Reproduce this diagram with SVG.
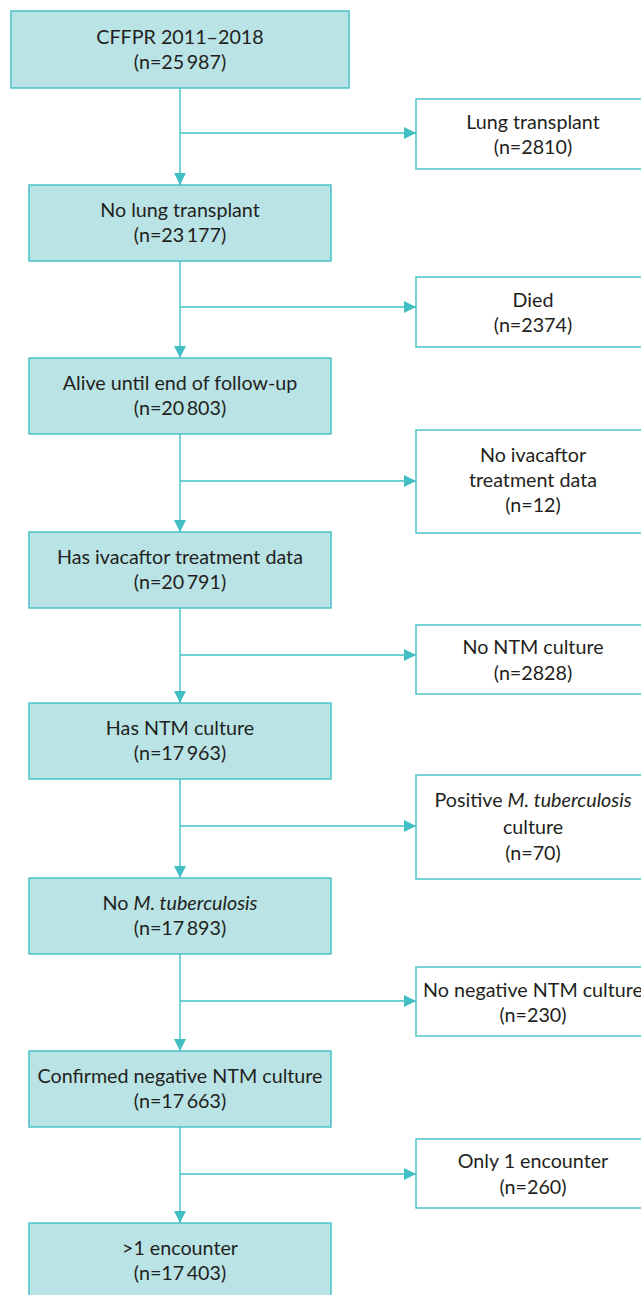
<svg xmlns="http://www.w3.org/2000/svg" width="641" height="1295" viewBox="0 0 641 1295">
<style>
.main{fill:#b9e3e5;stroke:#41bfc4;stroke-width:1.4}
.side{fill:#ffffff;stroke:#41bfc4;stroke-width:1.4}
.con{fill:none;stroke:#41bfc4;stroke-width:1.4}
text{font-family:"Lato","Liberation Sans",sans-serif;font-size:19.7px;fill:#231f20;text-anchor:middle}
.it{font-style:italic}
</style>
<defs>
<marker id="ah" viewBox="0 0 12 12" refX="12" refY="6" markerWidth="12" markerHeight="12" markerUnits="userSpaceOnUse" orient="auto">
<path d="M0,0 L12,6 L0,12 z" fill="#41bfc4"/>
</marker>
</defs>
<g id="connectors">
<path class="con" d="M180,88 V185" marker-end="url(#ah)"/>
<path class="con" d="M180,133 H416" marker-end="url(#ah)"/>
<path class="con" d="M180,261 V358" marker-end="url(#ah)"/>
<path class="con" d="M180,307 H416" marker-end="url(#ah)"/>
<path class="con" d="M180,434 V532" marker-end="url(#ah)"/>
<path class="con" d="M180,481 H416" marker-end="url(#ah)"/>
<path class="con" d="M180,608 V703" marker-end="url(#ah)"/>
<path class="con" d="M180,655 H416" marker-end="url(#ah)"/>
<path class="con" d="M180,779 V878" marker-end="url(#ah)"/>
<path class="con" d="M180,826 H416" marker-end="url(#ah)"/>
<path class="con" d="M180,954 V1051" marker-end="url(#ah)"/>
<path class="con" d="M180,1001 H416" marker-end="url(#ah)"/>
<path class="con" d="M180,1127 V1223" marker-end="url(#ah)"/>
<path class="con" d="M180,1174 H416" marker-end="url(#ah)"/>
</g>
<g id="n1"><rect class="main" x="11" y="11" width="338" height="77"/><text x="180" y="44">CFFPR 2011–2018</text><text x="180" y="69">(n=25&#8201;987)</text></g>
<g id="s1"><rect class="side" x="416" y="99" width="240" height="70"/><text x="533" y="129">Lung transplant</text><text x="533" y="154">(n=2810)</text></g>
<g id="n2"><rect class="main" x="29" y="185" width="302" height="76"/><text x="180" y="217">No lung transplant</text><text x="180" y="242">(n=23&#8201;177)</text></g>
<g id="s2"><rect class="side" x="416" y="277" width="240" height="70"/><text x="533" y="307">Died</text><text x="533" y="332">(n=2374)</text></g>
<g id="n3"><rect class="main" x="29" y="358" width="302" height="76"/><text x="180" y="390">Alive until end of follow-up</text><text x="180" y="415">(n=20&#8201;803)</text></g>
<g id="s3"><rect class="side" x="416" y="430" width="240" height="103"/><text x="533" y="461.5">No ivacaftor</text><text x="533" y="487">treatment data</text><text x="533" y="512">(n=12)</text></g>
<g id="n4"><rect class="main" x="29" y="532" width="302" height="76"/><text x="180" y="564">Has ivacaftor treatment data</text><text x="180" y="589">(n=20&#8201;791)</text></g>
<g id="s4"><rect class="side" x="416" y="625" width="240" height="69"/><text x="533" y="654">No NTM culture</text><text x="533" y="680">(n=2828)</text></g>
<g id="n5"><rect class="main" x="29" y="703" width="302" height="76"/><text x="180" y="735">Has NTM culture</text><text x="180" y="760">(n=17&#8201;963)</text></g>
<g id="s5"><rect class="side" x="416" y="775" width="240" height="104"/><text x="533" y="807">Positive <tspan class="it">M. tuberculosis</tspan></text><text x="533" y="834">culture</text><text x="533" y="860">(n=70)</text></g>
<g id="n6"><rect class="main" x="29" y="878" width="302" height="76"/><text x="180" y="910">No <tspan class="it">M. tuberculosis</tspan></text><text x="180" y="935">(n=17&#8201;893)</text></g>
<g id="s6"><rect class="side" x="416" y="967" width="240" height="69"/><text x="533" y="997">No negative NTM culture</text><text x="533" y="1022">(n=230)</text></g>
<g id="n7"><rect class="main" x="29" y="1051" width="302" height="76"/><text x="180" y="1083">Confirmed negative NTM culture</text><text x="180" y="1108">(n=17&#8201;663)</text></g>
<g id="s7"><rect class="side" x="416" y="1139" width="240" height="69"/><text x="533" y="1168">Only 1 encounter</text><text x="533" y="1194">(n=260)</text></g>
<g id="n8"><rect class="main" x="29" y="1223" width="302" height="76"/><text x="180" y="1255">&gt;1 encounter</text><text x="180" y="1280">(n=17&#8201;403)</text></g>
</svg>
